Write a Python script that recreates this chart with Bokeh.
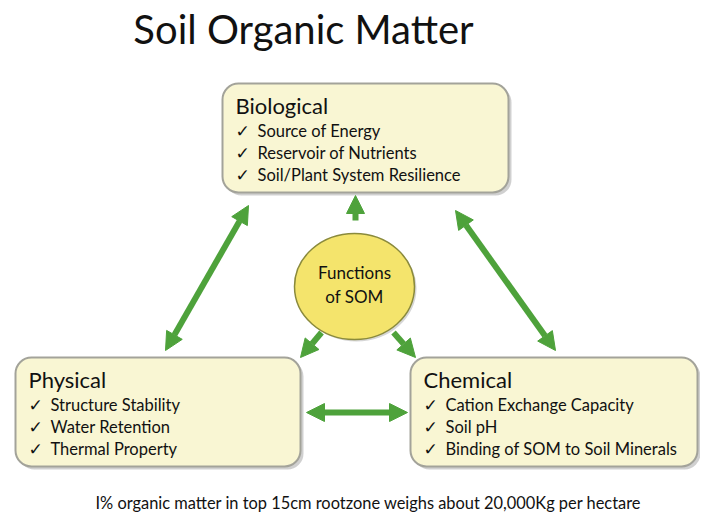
from bokeh.plotting import figure
from bokeh.models import Range1d, Arrow, NormalHead
from bokeh.core.properties import value
from bokeh.embed import file_html
from bokeh.resources import INLINE

# ---- content ----
title = "Soil Organic Matter"
footer = "I% organic matter in top 15cm rootzone weighs about 20,000Kg per hectare"
center_label = ["Functions", "of SOM"]
box_titles = ["Biological", "Physical", "Chemical"]
box_items = [
    ["Source of Energy", "Reservoir of Nutrients", "Soil/Plant System Resilience"],
    ["Structure Stability", "Water Retention", "Thermal Property"],
    ["Cation Exchange Capacity", "Soil pH", "Binding of SOM to Soil Minerals"],
]
# box extents (left, right, top, bottom) in page pixels
box_left = [222, 15, 410]
box_right = [508, 300, 697]
box_top = [83, 357, 357]
box_bottom = [192, 466, 466]
# ellipse
ell_x, ell_y, ell_w, ell_h = 354, 286, 120, 106
# arrows
arrow_x0 = [355, 321, 393, 165, 455, 306]
arrow_y0 = [220, 332, 332, 350, 210, 412]
arrow_x1 = [355, 300, 415, 248, 555, 407]
arrow_y1 = [195, 357, 357, 205, 350, 412]
arrow_double = [False, False, False, True, True, True]

FONT = "Lato"
GREEN = "#4ea23b"
W, H = 700, 512

p = figure(width=W, height=H, output_backend="svg", toolbar_location=None,
           x_range=Range1d(0, W), y_range=Range1d(H, 0),
           min_border=0, background_fill_color="white", border_fill_color="white")
p.axis.visible = False
p.grid.visible = False
p.outline_line_color = None

# shadows
p.quad(left=[l + 3 for l in box_left], right=[r + 3 for r in box_right],
       top=[t + 3 for t in box_top], bottom=[b + 3 for b in box_bottom],
       fill_color="#777777", fill_alpha=0.35, line_color=None, border_radius=16)
# boxes
p.quad(left=box_left, right=box_right, top=box_top, bottom=box_bottom,
       fill_color="#f9f6d3", line_color="#a3a39a", line_width=2, border_radius=16)

# box texts
for i in range(3):
    x0 = box_left[i] + 13
    p.text(x=[x0], y=[box_top[i] + 22], text=[box_titles[i]], text_font=value(FONT),
           text_font_size="22px", text_color="#111111", text_baseline="middle")
    for j, it in enumerate(box_items[i]):
        yy = box_top[i] + 47 + 22 * j
        p.text(x=[x0], y=[yy], text=["\u2713"], text_font=value("DejaVu Sans"),
               text_font_size="17px", text_color="#111111", text_baseline="middle")
        p.text(x=[x0 + 22], y=[yy], text=[it], text_font=value(FONT),
               text_font_size="16.5px", text_color="#111111", text_baseline="middle")

# ellipse
p.ellipse(x=[ell_x + 2], y=[ell_y + 2], width=ell_w, height=ell_h,
          fill_color="#777777", fill_alpha=0.3, line_color=None)
p.ellipse(x=[ell_x], y=[ell_y], width=ell_w, height=ell_h,
          fill_color="#f4e46c", line_color="#8a8a3c", line_width=1.5)
p.text(x=[ell_x, ell_x], y=[ell_y - 14, ell_y + 10], text=center_label,
       text_font=value(FONT), text_font_size="17px", text_color="#111111",
       text_align="center", text_baseline="middle")

# arrows
for x0, y0, x1, y1, dbl in zip(arrow_x0, arrow_y0, arrow_x1, arrow_y1, arrow_double):
    end = NormalHead(size=18, fill_color=GREEN, line_color=GREEN, line_width=1)
    start = NormalHead(size=18, fill_color=GREEN, line_color=GREEN, line_width=1) if dbl else None
    p.add_layout(Arrow(x_start=x0, y_start=y0, x_end=x1, y_end=y1, end=end, start=start,
                       line_color=GREEN, line_width=6))

# title & footer
p.text(x=[303], y=[28], text=[title], text_font=value(FONT), text_font_size="40px",
       text_color="#111111", text_align="center", text_baseline="middle")
p.text(x=[368], y=[502], text=[footer], text_font=value(FONT), text_font_size="16.4px",
       text_color="#111111", text_align="center", text_baseline="middle")

open("out.html", "w").write(file_html(p, INLINE))
